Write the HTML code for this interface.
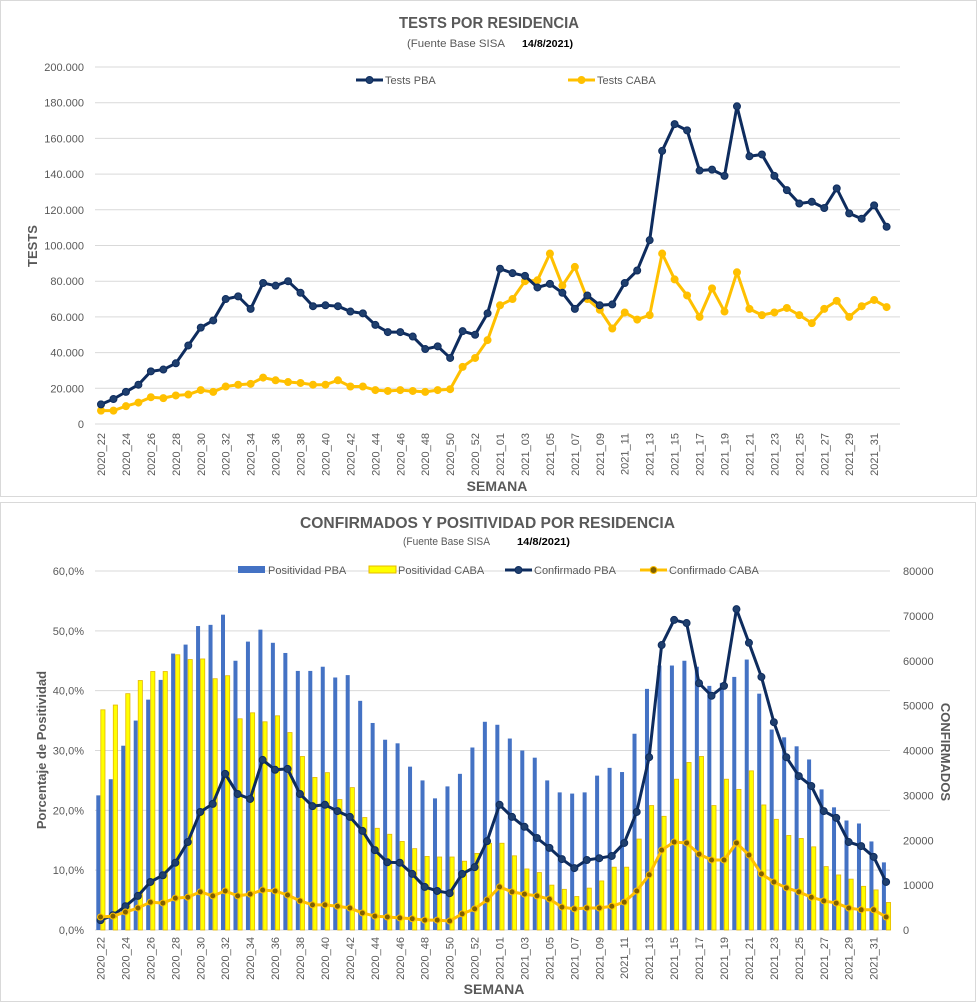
<!DOCTYPE html>
<html><head><meta charset="utf-8"><style>
html,body{margin:0;padding:0;background:#fff;}
svg{display:block;font-family:"Liberation Sans",sans-serif;}
</style></head><body>
<svg id="svg" width="979" height="1003" viewBox="0 0 979 1003" xmlns="http://www.w3.org/2000/svg">
<rect x="0.5" y="0.5" width="976" height="496" fill="#fff" stroke="#d9d9d9"/>
<rect x="0.5" y="502.5" width="975" height="499" fill="#fff" stroke="#d9d9d9"/>
<g id="topg"></g>
<g id="botg"></g>
</svg>
<script>
const weeks = [];
for (let w = 22; w <= 53; w++) weeks.push('2020_' + w);
for (let w = 1; w <= 32; w++) weeks.push('2021_' + String(w).padStart(2, '0'));
const testsPBA = [11000,14000,18000,22000,29500,30500,34000,44000,54000,58000,70000,71500,64500,79000,77500,80000,73500,66000,66500,66000,63000,62000,55500,51500,51500,49000,42000,43500,37000,52000,50000,62000,
87000,84500,83000,76500,78500,73500,64500,72000,66500,67000,79000,86000,103000,153000,168000,164500,142000,142500,139000,178000,150000,151000,139000,131000,123500,124500,121000,132000,118000,115000,122500,110500];
const testsCABA = [7500,7500,10000,12000,15000,14500,16000,16500,19000,18000,21000,22000,22500,26000,24500,23500,23000,22000,22000,24500,21000,21000,19000,18500,19000,18500,18000,19000,19500,32000,37000,47000,
66500,70000,80000,80500,95500,77500,88000,70000,64000,53500,62500,58500,61000,95500,81000,72000,60000,76000,63000,85000,64500,61000,62500,65000,61000,56500,64500,69000,60000,66000,69500,65500];
const posPBA = [22.5,25.2,30.8,35,38.5,41.8,46.2,47.7,50.8,51,52.7,45,48.2,50.2,48,46.3,43.3,43.3,44,42.2,42.6,38.3,34.6,31.8,31.2,27.3,25,22,24,26.1,30.5,34.8,
34.3,32,30,28.8,25,23,22.8,23,25.8,27.1,26.4,32.8,40.3,44.2,44.2,45,44,40.8,41.3,42.3,45.2,39.5,33.5,32.2,30.7,28.5,23.5,20.5,18.3,17.8,14.8,11.3];
const posCABA = [36.8,37.6,39.5,41.7,43.2,43.2,46,45.2,45.3,42,42.5,35.3,36.3,34.8,35.8,33,29,25.5,26.3,21.8,23.8,18.8,17,16,14.8,13.6,12.3,12.2,12.2,11.5,12.8,14.5,
14.5,12.4,10.2,9.6,7.5,6.8,5.6,7,8.2,10.5,10.5,15.2,20.8,19,25.2,28,29,20.8,25.2,23.5,26.6,20.9,18.5,15.8,15.3,13.9,10.6,9.2,8.5,7.3,6.7,4.6];
const confPBA = [2200,3300,5300,7600,10700,12200,15000,19600,26300,28100,34800,30300,29200,37900,35700,35900,30300,27600,27900,26500,25200,22100,17800,15100,15000,12500,9600,8700,8200,12500,14000,19800,
27900,25200,23000,20500,18300,15800,13800,15600,16000,16500,19400,26300,38500,63500,69100,68400,55000,52200,54400,71500,64000,56400,46300,38500,34300,32100,26500,25000,19600,18700,16300,10700];
const confCABA = [2900,3100,4000,4900,6200,6000,7100,7300,8500,7600,8700,7600,8000,8900,8700,7800,6500,5600,5600,5300,4900,3800,3100,2900,2700,2500,2200,2200,2000,3600,4700,6700,
9600,8500,8000,7600,6900,5100,4700,4900,4900,5300,6200,8700,12300,17800,19600,19400,16900,15600,15600,19400,16700,12500,10700,9400,8500,7300,6500,6000,4900,4500,4500,2900];
const topTicks = [0,20000,40000,60000,80000,100000,120000,140000,160000,180000,200000];
const leftTicks = [0,10,20,30,40,50,60];
const rightTicks = [0,10000,20000,30000,40000,50000,60000,70000,80000];

const NS = 'http://www.w3.org/2000/svg';
function mk(parent, tag, attrs, text) {
  const e = document.createElementNS(NS, tag);
  for (const k in attrs) e.setAttribute(k, attrs[k]);
  if (text !== undefined) e.textContent = text;
  parent.appendChild(e);
  return e;
}
const fmtDot = v => String(v).replace(/\B(?=(\d{3})+(?!\d))/g, '.');
const NAVY = '#0e2c5e', GOLD = '#ffc000', GRAY = '#595959', GRID = '#d9d9d9';

function series(parent, vals, xf, yf, col, mcol, name, r) {
  const p = mk(parent, 'polyline', {points: vals.map((v, i) => xf(i) + ',' + yf(v)).join(' '), fill: 'none', stroke: col, 'stroke-width': 3, 'stroke-linejoin': 'round'});
  
  
  vals.forEach((v, i) => {
    const c = mk(parent, 'circle', {cx: xf(i), cy: yf(v), r: r, fill: mcol, stroke: col, 'stroke-width': 1});
    
    
  });
}
function legLine(parent, x, y, col, mcol, label, name) {
  const g = mk(parent, 'g', {});
  
  
  mk(g, 'line', {x1: x, x2: x + 27, y1: y, y2: y, stroke: col, 'stroke-width': 3});
  mk(g, 'circle', {cx: x + 13.5, cy: y, r: 3.5, fill: mcol, stroke: col});
  mk(g, 'text', {x: x + 29, y: y + 4, 'font-size': 11, fill: GRAY}, label);
}

// ===== TOP CHART =====
const topChart = document.getElementById('topg');
const tX = i => 101 + i * 12.47;
const tY = v => 424 - v * (357 / 200000);
let t;
t = mk(topChart, 'text', {x: 399, y: 28, 'font-size': 16, 'font-weight': 'bold', fill: GRAY, textLength: 180, lengthAdjust: 'spacingAndGlyphs'}, 'TESTS POR RESIDENCIA');


t = mk(topChart, 'text', {x: 407, y: 47, 'font-size': 11, fill: GRAY, textLength: 98, lengthAdjust: 'spacingAndGlyphs'}, '(Fuente Base SISA');


t = mk(topChart, 'text', {x: 522, y: 47, 'font-size': 10.5, 'font-weight': 'bold', fill: '#000', textLength: 51, lengthAdjust: 'spacingAndGlyphs'}, '14/8/2021)');


topTicks.forEach(v => {
  const g = mk(topChart, 'line', {x1: 95, x2: 900, y1: tY(v), y2: tY(v), stroke: GRID, 'stroke-width': 1});
  
  
  const l = mk(topChart, 'text', {x: 84, y: tY(v) + 4, 'text-anchor': 'end', 'font-size': 11, fill: GRAY}, fmtDot(v));
  
  
});
weeks.forEach((w, i) => {
  if (i % 2) return;
  const l = mk(topChart, 'text', {x: 0, y: 0, transform: `translate(${tX(i) + 4},433) rotate(-90)`, 'text-anchor': 'end', 'font-size': 11, fill: GRAY}, w);
  
  
});
t = mk(topChart, 'text', {x: 0, y: 0, transform: 'translate(37,246) rotate(-90)', 'text-anchor': 'middle', 'font-size': 13, 'font-weight': 'bold', fill: GRAY}, 'TESTS');


t = mk(topChart, 'text', {x: 497, y: 491, 'text-anchor': 'middle', 'font-size': 14, 'font-weight': 'bold', fill: GRAY}, 'SEMANA');


series(topChart, testsCABA, tX, tY, GOLD, GOLD, 'tests-caba', 3.5);
series(topChart, testsPBA, tX, tY, NAVY, '#1f3f6e', 'tests-pba', 3.5);
legLine(topChart, 356, 80, NAVY, '#1f3f6e', 'Tests PBA', 'legend-tests-pba');
legLine(topChart, 568, 80, GOLD, GOLD, 'Tests CABA', 'legend-tests-caba');

// ===== BOTTOM CHART =====
const botChart = document.getElementById('botg');
const bX = i => 100.5 + i * 12.47;
const bY = p => 930 - p * (359 / 60);
const rY = v => 930 - v * (359 / 80000);
t = mk(botChart, 'text', {x: 300, y: 528, 'font-size': 16, 'font-weight': 'bold', fill: GRAY, textLength: 375, lengthAdjust: 'spacingAndGlyphs'}, 'CONFIRMADOS Y POSITIVIDAD POR RESIDENCIA');


t = mk(botChart, 'text', {x: 403, y: 545, 'font-size': 11, fill: GRAY, textLength: 87, lengthAdjust: 'spacingAndGlyphs'}, '(Fuente Base SISA');


t = mk(botChart, 'text', {x: 517, y: 545, 'font-size': 10.5, 'font-weight': 'bold', fill: '#000', textLength: 53, lengthAdjust: 'spacingAndGlyphs'}, '14/8/2021)');


leftTicks.forEach(p => {
  const g = mk(botChart, 'line', {x1: 95, x2: 890, y1: bY(p), y2: bY(p), stroke: GRID, 'stroke-width': 1});
  
  
  const l = mk(botChart, 'text', {x: 84, y: bY(p) + 4, 'text-anchor': 'end', 'font-size': 11, fill: GRAY}, p.toFixed(1).replace('.', ',') + '%');
  
  
});
rightTicks.forEach(v => {
  const l = mk(botChart, 'text', {x: 903, y: rY(v) + 4, 'font-size': 11, fill: GRAY}, String(v));
  
  
});
weeks.forEach((w, i) => {
  if (i % 2) return;
  const l = mk(botChart, 'text', {x: 0, y: 0, transform: `translate(${bX(i) + 4},937) rotate(-90)`, 'text-anchor': 'end', 'font-size': 11, fill: GRAY}, w);
  
  
});
t = mk(botChart, 'text', {x: 0, y: 0, transform: 'translate(46,750) rotate(-90)', 'text-anchor': 'middle', 'font-size': 13, 'font-weight': 'bold', fill: GRAY}, 'Porcentaje de Positividad');


t = mk(botChart, 'text', {x: 0, y: 0, transform: 'translate(941,752) rotate(90)', 'text-anchor': 'middle', 'font-size': 13, 'font-weight': 'bold', fill: GRAY}, 'CONFIRMADOS');


t = mk(botChart, 'text', {x: 494, y: 994, 'text-anchor': 'middle', 'font-size': 14, 'font-weight': 'bold', fill: GRAY}, 'SEMANA');


posPBA.forEach((p, i) => {
  const r = mk(botChart, 'rect', {x: bX(i) - 4.2, y: bY(p), width: 4, height: 930 - bY(p), fill: '#4472c4'});
  
  
});
posCABA.forEach((p, i) => {
  const r = mk(botChart, 'rect', {x: bX(i) + 0.3, y: bY(p), width: 4.2, height: 930 - bY(p), fill: '#ffff00', stroke: '#e6b800', 'stroke-width': 0.8});
  
  
});
series(botChart, confPBA, bX, rY, NAVY, '#1f3f6e', 'confirmado-pba', 3.5);
series(botChart, confCABA, bX, rY, GOLD, '#7f6000', 'confirmado-caba', 3);
let lg = mk(botChart, 'g', {});


mk(lg, 'rect', {x: 238, y: 566, width: 27, height: 7, fill: '#4472c4'});
mk(lg, 'text', {x: 268, y: 574, 'font-size': 11, fill: GRAY}, 'Positividad PBA');
lg = mk(botChart, 'g', {});


mk(lg, 'rect', {x: 369, y: 566, width: 27, height: 7, fill: '#ffff00', stroke: '#e6b800'});
mk(lg, 'text', {x: 398, y: 574, 'font-size': 11, fill: GRAY}, 'Positividad CABA');
legLine(botChart, 505, 570, NAVY, '#1f3f6e', 'Confirmado PBA', 'legend-confirmado-pba');
legLine(botChart, 640, 570, GOLD, '#7f6000', 'Confirmado CABA', 'legend-confirmado-caba');
</script>
</body></html>
